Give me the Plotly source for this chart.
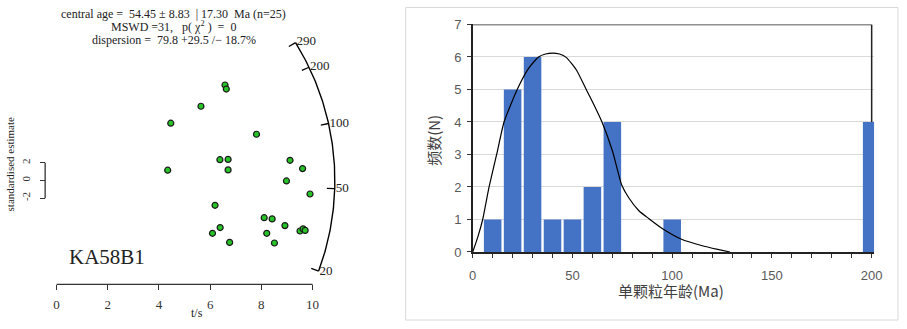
import math
import plotly.graph_objects as go

# ---------------- data ----------------
# radial plot (left)
ts_values = [6.58, 6.63, 5.64, 4.46, 7.81, 6.38, 6.70, 9.12, 4.34, 6.70, 9.61, 8.98, 9.90,
             6.19, 8.11, 8.42, 8.92, 6.39, 6.09, 8.21, 9.51, 9.63, 9.71, 6.76, 8.51]
z_values = [10.82, 10.36, 8.41, 6.49, 5.24, 2.36, 2.39, 2.29, 1.17, 1.20, 1.35, -0.05, -1.53,
            -2.81, -4.21, -4.35, -5.11, -5.33, -5.98, -5.98, -5.72, -5.48, -5.65, -7.01, -7.08]
central_age = 54.45
arc_ticks = [20, 50, 100, 200, 290]
ts_ticks = [0, 2, 4, 6, 8, 10]
scale_ticks = [-2, 0, 2]
sample_name = "KA58B1"
header_lines = [
    "central age =  54.45 ± 8.83  | 17.30  Ma (n=25)",
    "MSWD =31,   p( χ<sup>2</sup> )  =  0",
    "dispersion =  79.8 +29.5 /− 18.7%",
]

# histogram (right)
bin_centers = [10, 20, 30, 40, 50, 60, 70, 100, 200]
bin_counts = [1, 5, 6, 1, 1, 2, 4, 1, 4]
curve_age = [0, 2.5, 5, 8.2, 12, 15.7, 22.3, 28, 33, 36.5, 40, 43.5, 47, 52, 56.9, 61, 64.8,
             70.1, 74.7, 78.3, 83.3, 88.2, 94.8, 104.7, 114.6, 122.8, 129]
curve_freq = [0, 0.45, 1.0, 2.0, 3.0, 4.0, 5.0, 5.65, 6.0, 6.09, 6.12, 6.09, 5.98, 5.6, 5.0,
              4.5, 4.0, 3.1, 2.06, 1.66, 1.27, 1.03, 0.73, 0.39, 0.20, 0.08, 0.0]
hist_xticks = list(range(0, 201, 10))
hist_xlabels = [str(v) if v % 50 == 0 else " " for v in hist_xticks]
hist_yticks = list(range(0, 8))

# ---------------- geometry ----------------
W, H = 907, 329
LX0, XS = 53.3, 25.94      # pixel of t/s = 0 and px per unit
LY0, YS = 181.8, 9.25      # pixel of z = 0 and px per unit
AXIS_Y = 290.7             # pixel row of the t/s axis
R_ARC = 282.0              # arc radius in pixels

left_xrange = [-2, 13]
left_xdomain = [(LX0 + left_xrange[0] * XS) / W, (LX0 + left_xrange[1] * XS) / W]
left_ydomain = [1 - AXIS_Y / H, 1]
left_yrange = [-(AXIS_Y - LY0) / YS, LY0 / YS]

RX0, RX200 = 475.0, 879.3
RY0, RY7 = 256.7, 18.3
right_xrange = [0, 201.2]
right_xdomain = [RX0 / W, (RX0 + right_xrange[1] * (RX200 - RX0) / 200) / W]
right_ydomain = [1 - RY0 / H, 1 - RY7 / H]

serif = "Liberation Serif, Times New Roman, serif"
sans = "Liberation Sans, Arial, sans-serif"
cjk = "Noto Sans CJK SC, sans-serif"


def arc_point(angle, r):
    return r * math.cos(angle) / XS, r * math.sin(angle) / YS


def age_angle(t):
    return math.atan2(YS * math.log(t / central_age), XS)


fig = go.Figure()

# arc
a0, a1 = age_angle(min(arc_ticks)), age_angle(max(arc_ticks))
n = 120
arc_x, arc_y = [], []
for i in range(n + 1):
    a = a0 + (a1 - a0) * i / n
    px, py = arc_point(a, R_ARC)
    arc_x.append(px)
    arc_y.append(py)
fig.add_trace(go.Scatter(x=arc_x, y=arc_y, mode="lines", line=dict(color="black", width=1.4),
                         xaxis="x", yaxis="y", hoverinfo="skip"))

tick_x, tick_y, lab_x, lab_y = [], [], [], []
for t in arc_ticks:
    a = age_angle(t)
    p_out = arc_point(a, R_ARC)
    p_in = arc_point(a, R_ARC - 8)
    tick_x += [p_out[0], p_in[0], None]
    tick_y += [p_out[1], p_in[1], None]
    pl = arc_point(a, R_ARC + 1)
    lab_x.append(pl[0])
    lab_y.append(pl[1])
fig.add_trace(go.Scatter(x=tick_x, y=tick_y, mode="lines", line=dict(color="black", width=1.3),
                         xaxis="x", yaxis="y", hoverinfo="skip"))
fig.add_trace(go.Scatter(x=lab_x, y=lab_y, mode="text", text=[str(t) for t in arc_ticks],
                         textposition="middle right",
                         textfont=dict(family=serif, size=13, color="#222"),
                         xaxis="x", yaxis="y", hoverinfo="skip"))

# points
fig.add_trace(go.Scatter(x=ts_values, y=z_values, mode="markers",
                         marker=dict(size=6, color="#27c427", line=dict(color="#1a1a1a", width=1.2)),
                         xaxis="x", yaxis="y"))

# histogram
fig.add_trace(go.Bar(x=bin_centers, y=bin_counts, width=8.8, marker=dict(color="#4472c4", line=dict(width=0)),
                     xaxis="x2", yaxis="y2"))
fig.add_trace(go.Scatter(x=curve_age, y=curve_freq, mode="lines",
                         line=dict(color="black", width=1.2, shape="spline", smoothing=0.5),
                         xaxis="x2", yaxis="y2", hoverinfo="skip"))

shapes = [
    # t/s axis line
    dict(type="line", xref="x", yref="y domain", x0=min(ts_ticks), x1=max(ts_ticks), y0=0, y1=0,
         line=dict(color="#333", width=1.3)),
    # standardised estimate scale bar
    dict(type="line", xref="paper", yref="y", x0=41.7 / W, x1=41.7 / W,
         y0=min(scale_ticks), y1=max(scale_ticks), line=dict(color="#333", width=1.3)),
    # histogram frame: top and right
    dict(type="line", xref="x2", yref="y2", x0=0, x1=200, y0=7, y1=7,
         line=dict(color="#222", width=1.5), layer="between"),
    dict(type="line", xref="x2", yref="y2", x0=200, x1=200, y0=0, y1=7,
         line=dict(color="#222", width=1.5), layer="between"),
    # chart area border
    dict(type="rect", xref="paper", yref="paper", x0=407 / W, x1=906 / W, y0=1 - 328 / H, y1=1 - 0.5 / H,
         line=dict(color="#d9d9d9", width=1), layer="below"),
]

annotations = []
for i, txt in enumerate(header_lines):
    annotations.append(dict(text=txt, x=172 / W, y=1 - (7 + 13.7 * i) / H, xref="paper", yref="paper",
                            showarrow=False, xanchor="center", yanchor="middle",
                            font=dict(family=serif, size=12, color="#222")))
annotations += [
    dict(text=sample_name, x=104 / W, y=1 - 262 / H, xref="paper", yref="paper", showarrow=False,
         xanchor="center", yanchor="middle", font=dict(family=serif, size=21, color="#222")),
    dict(text="t/s", x=195.5 / W, y=1 - 321 / H, xref="paper", yref="paper", showarrow=False,
         xanchor="center", yanchor="middle", font=dict(family=serif, size=12, color="#222")),
    dict(text="standardised estimate", x=6 / W, y=1 - 164 / H, xref="paper", yref="paper", showarrow=False,
         textangle=-90, xanchor="center", yanchor="middle", font=dict(family=serif, size=11, color="#222")),
    dict(text="频数(N)", x=435 / W, y=1 - 140 / H, xref="paper", yref="paper", showarrow=False,
         textangle=-90, xanchor="center", yanchor="middle", font=dict(family=cjk, size=15, color="#404040")),
    dict(text="单颗粒年龄(Ma)", x=676 / W, y=1 - 297 / H, xref="paper", yref="paper", showarrow=False,
         xanchor="center", yanchor="middle", font=dict(family=cjk, size=15, color="#404040")),
]

fig.update_layout(
    width=W, height=H, margin=dict(l=0, r=0, t=0, b=0),
    paper_bgcolor="white", plot_bgcolor="white", showlegend=False,
    shapes=shapes, annotations=annotations,
    xaxis=dict(domain=left_xdomain, range=left_xrange, anchor="y", tickvals=ts_ticks,
               ticks="outside", ticklen=5, tickcolor="#333", tickwidth=1.2, showline=False,
               showgrid=False, zeroline=False, ticklabelstandoff=3,
               tickfont=dict(family=serif, size=13, color="#333")),
    yaxis=dict(domain=left_ydomain, range=left_yrange, anchor="free", position=41.7 / W,
               tickvals=scale_ticks, ticktext=[str(v) for v in scale_ticks], ticks="outside", ticklen=5,
               tickcolor="#333", tickwidth=1.2, tickangle=-90, showline=False, showgrid=False,
               zeroline=False, ticklabelstandoff=6, tickfont=dict(family=serif, size=11, color="#333")),
    xaxis2=dict(domain=right_xdomain, range=right_xrange, anchor="y2", tickvals=hist_xticks,
                ticktext=hist_xlabels, ticks="outside", ticklen=4, tickcolor="#333", tickwidth=1,
                showline=True, linecolor="#222", linewidth=1.5, showgrid=False, zeroline=False,
                ticklabelstandoff=7, tickfont=dict(family=sans, size=13, color="#595959")),
    yaxis2=dict(domain=right_ydomain, range=[0, 7], anchor="x2", tickvals=hist_yticks, ticks="outside",
                ticklen=4, tickcolor="#333", tickwidth=1, showline=True, linecolor="#222", linewidth=1.5,
                showgrid=True, gridcolor="#d9d9d9", gridwidth=1, zeroline=False, ticklabelstandoff=3,
                tickfont=dict(family=sans, size=13, color="#595959")),
)

fig.write_html("out.html")
